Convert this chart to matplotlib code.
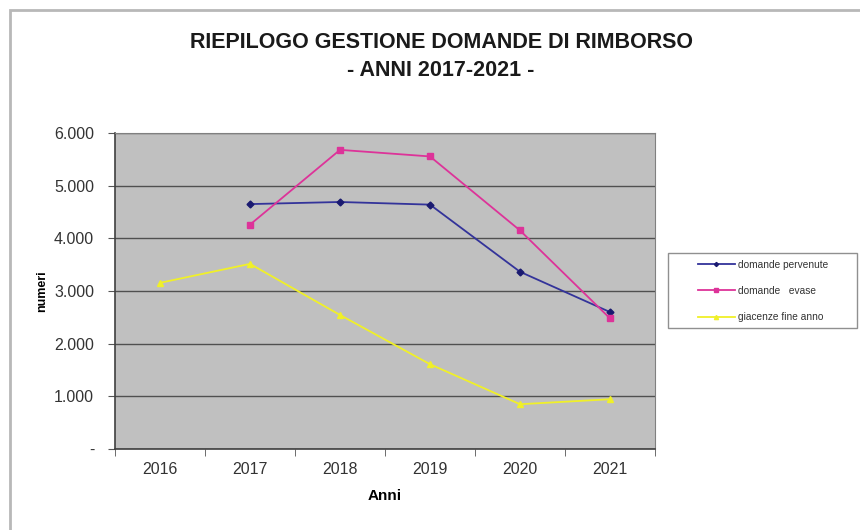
import matplotlib
matplotlib.use("Agg")
import matplotlib.pyplot as plt
import numpy as np
from matplotlib.patches import Rectangle
from matplotlib.ticker import FuncFormatter, FixedLocator

plt.rcParams["font.family"] = ["Liberation Sans", "DejaVu Sans"]

# ── data ────────────────────────────────────────────
anni = ["2016", "2017", "2018", "2019", "2020", "2021"]
pervenute = [np.nan, 4650, 4690, 4640, 3365, 2600]
evase = [np.nan, 4260, 5680, 5555, 4150, 2480]
giacenze = [3155, 3515, 2545, 1610, 850, 945]

C_BLUE = "#33339a"
C_MAG = "#dd3399"
C_YEL = "#f0f028"
C_BG = "#c0c0c0"

fig = plt.figure(figsize=(8.6, 5.3), dpi=100)
fig.patch.set_facecolor("white")

# outer chart frame
fig.patches.append(Rectangle((10 / 860, -0.05), 1.1, 1 - 10 / 530 + 0.05,
                             transform=fig.transFigure, fill=False,
                             edgecolor="#b8b8b8", lw=2.0))

ax = fig.add_axes([115 / 860, 1 - 449 / 530, 540 / 860, 316 / 530])
ax.set_facecolor(C_BG)

x = np.arange(len(anni))
ax.plot(x, pervenute, color=C_BLUE, lw=1.3, marker="D", ms=3.5,
        mfc="#1a1a70", mec="#1a1a70", label="domande pervenute", zorder=3)
ax.plot(x, evase, color=C_MAG, lw=1.3, marker="s", ms=5,
        mfc=C_MAG, mec=C_MAG, label="domande   evase", zorder=3)
ax.plot(x, giacenze, color=C_YEL, lw=1.3, marker="^", ms=5,
        mfc=C_YEL, mec=C_YEL, label="giacenze fine anno", zorder=3)

ax.set_xlim(-0.5, len(anni) - 0.5)
ax.set_ylim(0, 6000)
ax.set_yticks(np.arange(0, 6001, 1000))
ax.yaxis.set_major_formatter(FuncFormatter(
    lambda v, p: "-" if v == 0 else f"{int(v):,}".replace(",", ".")))
ax.grid(axis="y", color="#505050", lw=1.0)
ax.set_axisbelow(True)

ax.set_xticks(x)
ax.set_xticklabels(anni)
ax.xaxis.set_minor_locator(FixedLocator(np.arange(-0.5, len(anni), 1.0)))
ax.tick_params(axis="x", which="major", length=0, pad=9, labelsize=11.5, colors="#333333")
ax.tick_params(axis="x", which="minor", length=5, color="#555555")
ax.tick_params(axis="y", length=5, color="#555555", labelsize=11.5, labelcolor="#333333", pad=10)

for s in ["top", "right"]:
    ax.spines[s].set_color("#808080")
for s in ["left", "bottom"]:
    ax.spines[s].set_color("#404040")
    ax.spines[s].set_linewidth(1.2)

ax.set_xlabel("Anni", fontsize=11, fontweight="bold", labelpad=9)
ax.set_ylabel("numeri", fontsize=9, fontweight="bold", labelpad=4)

fig.text(441 / 860, 1 - 42 / 530, "RIEPILOGO GESTIONE DOMANDE DI RIMBORSO",
         ha="center", va="center", fontsize=15.5, fontweight="bold", color="#1a1a1a")
fig.text(441 / 860, 1 - 70 / 530, "- ANNI 2017-2021 -",
         ha="center", va="center", fontsize=15.5, fontweight="bold", color="#1a1a1a")

# legend box drawn separately, legend content centred inside it
fig.patches.append(Rectangle((668 / 860, 1 - 328 / 530), 189 / 860, 75 / 530,
                             transform=fig.transFigure, facecolor="white",
                             edgecolor="#909090", lw=1.0))
leg = fig.legend(loc="center", bbox_to_anchor=(763 / 860, 1 - 291 / 530),
                 fontsize=7.3, handlelength=3.6, labelspacing=1.6,
                 borderpad=0.3, handletextpad=0.3, frameon=False, markerscale=0.6)
for t in leg.get_texts():
    t.set_color("#333333")

fig.savefig("out.png", dpi=100, facecolor="white")
